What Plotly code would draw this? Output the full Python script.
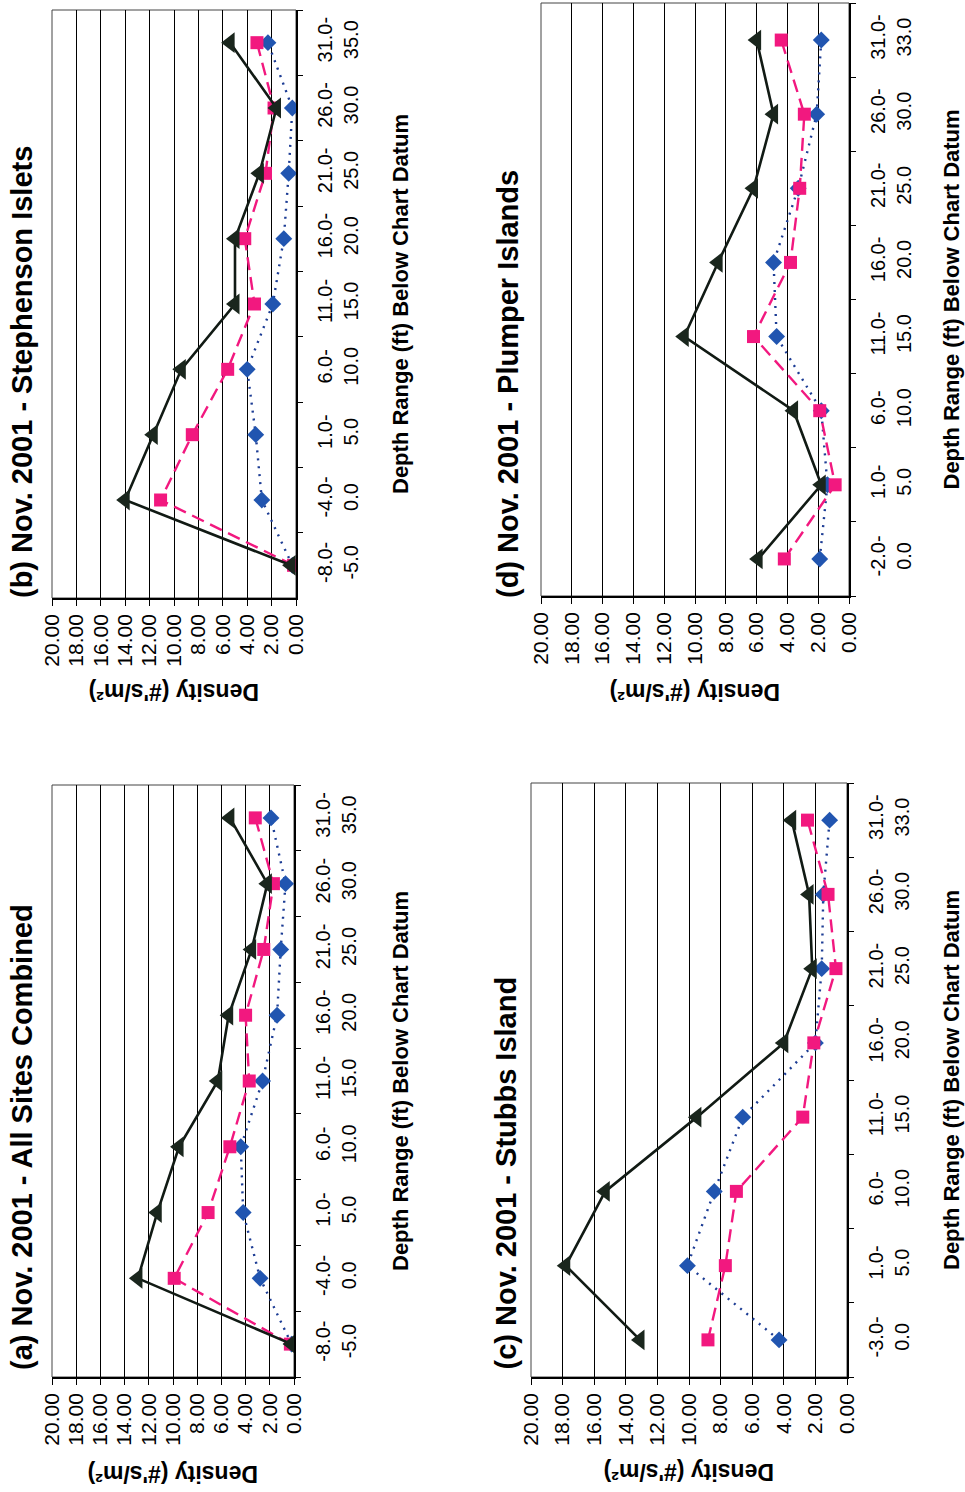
import plotly.graph_objects as go

# ---------------- data ----------------
cats_ab = ["-8.0-<br>-5.0", "-4.0-<br>0.0", "1.0-<br>5.0", "6.0-<br>10.0", "11.0-<br>15.0",
           "16.0-<br>20.0", "21.0-<br>25.0", "26.0-<br>30.0", "31.0-<br>35.0"]
cats_c = ["-3.0-<br>0.0", "1.0-<br>5.0", "6.0-<br>10.0", "11.0-<br>15.0",
          "16.0-<br>20.0", "21.0-<br>25.0", "26.0-<br>30.0", "31.0-<br>33.0"]
cats_d = ["-2.0-<br>0.0", "1.0-<br>5.0", "6.0-<br>10.0", "11.0-<br>15.0",
          "16.0-<br>20.0", "21.0-<br>25.0", "26.0-<br>30.0", "31.0-<br>33.0"]

# (a) All Sites Combined
a_tri = [0.2, 12.9, 11.3, 9.5, 6.3, 5.4, 3.5, 2.2, 5.3]
a_sq = [0.3, 9.9, 7.1, 5.3, 3.7, 4.0, 2.5, 1.7, 3.2]
a_dia = [0.2, 2.8, 4.2, 4.4, 2.6, 1.4, 1.1, 0.7, 1.9]
# (b) Stephenson Islets
b_tri = [0.4, 14.0, 11.7, 9.4, 5.0, 5.0, 3.0, 1.6, 5.4]
b_sq = [0.2, 11.1, 8.5, 5.6, 3.4, 4.2, 2.5, 1.8, 3.2]
b_dia = [0.3, 2.8, 3.3, 4.0, 1.9, 1.0, 0.6, 0.3, 2.3]
# (c) Stubbs Island
c_tri = [13.1, 17.8, 15.3, 9.5, 4.0, 2.2, 2.4, 3.5]
c_sq = [8.8, 7.7, 7.0, 2.8, 2.1, 0.7, 1.2, 2.5]
c_dia = [4.3, 10.1, 8.4, 6.6, 2.0, 1.6, 1.5, 1.1]
# (d) Plumper Islands
d_tri = [5.9, 1.8, 3.6, 10.7, 8.5, 6.2, 4.9, 6.0]
d_sq = [4.2, 0.9, 1.9, 6.2, 3.8, 3.2, 2.9, 4.4]
d_dia = [1.9, 1.4, 1.8, 4.7, 4.9, 3.3, 2.1, 1.8]

titles = ["(a) Nov. 2001 - All Sites Combined", "(b) Nov. 2001 - Stephenson Islets",
          "(c) Nov. 2001 - Stubbs Island", "(d) Nov. 2001 - Plumper Islands"]
density_title = "Density (#'s/m²)"
depth_title = "Depth Range (ft) Below Chart Datum"
density_ticks = [0, 2, 4, 6, 8, 10, 12, 14, 16, 18, 20]

# ---------------- layout geometry (pixels) ----------------
W, H = 965, 1492
FONT = "Liberation Sans, Arial, Helvetica, sans-serif"


def px(v):
    return v / W


def py(v):
    return 1 - v / H


panels = [
    dict(cats=cats_ab, tri=a_tri, sq=a_sq, dia=a_dia, box=(52, 294, 785, 1377),
         tx=22, tb=1372, dx=400, dy=1474),
    dict(cats=cats_ab, tri=b_tri, sq=b_sq, dia=b_dia, box=(52, 296, 10, 598),
         tx=22, tb=600, dx=400, dy=692),
    dict(cats=cats_c, tri=c_tri, sq=c_sq, dia=c_dia, box=(531, 847, 783, 1377),
         tx=505, tb=1372, dx=951, dy=1472),
    dict(cats=cats_d, tri=d_tri, sq=d_sq, dia=d_dia, box=(541, 849, 3, 596),
         tx=508, tb=600, dx=951, dy=692),
]

fig = go.Figure()
layout = {}
annotations = []
shapes = []

for i, p in enumerate(panels):
    n = "" if i == 0 else str(i + 1)
    xref, yref = "x" + n, "y" + n
    l, r, t, b = p["box"]

    fig.add_trace(go.Scatter(
        x=p["dia"], y=p["cats"], xaxis=xref, yaxis=yref, mode="lines+markers",
        line=dict(color="#1c3c94", width=2.4, dash="2px,6px"),
        marker=dict(symbol="diamond", size=13, color="#2155b0"), showlegend=False,
        name="Diamonds"))
    fig.add_trace(go.Scatter(
        x=p["sq"], y=p["cats"], xaxis=xref, yaxis=yref, mode="lines+markers",
        line=dict(color="#f2187f", width=2.4, dash="13px,7px"),
        marker=dict(symbol="square", size=13, color="#f2187f"), showlegend=False,
        name="Squares"))
    fig.add_trace(go.Scatter(
        x=p["tri"], y=p["cats"], xaxis=xref, yaxis=yref, mode="lines+markers",
        line=dict(color="#111a14", width=2.6),
        marker=dict(symbol="triangle-left", size=18, color="#1a261d"), showlegend=False,
        name="Triangles"))

    layout["xaxis" + n] = dict(
        domain=[px(l), px(r)], anchor=yref, range=[20, 0], tickmode="array",
        tickvals=density_ticks, tickformat=".2f", tickangle=-90, ticks="outside",
        ticklen=6, tickcolor="black", showgrid=True, gridcolor="black", gridwidth=1,
        showline=True, linecolor="black", linewidth=1.5, zeroline=False, automargin=False,
        tickfont=dict(size=21, color="black", family=FONT), fixedrange=True)
    layout["yaxis" + n] = dict(
        domain=[py(b), py(t)], anchor=xref, side="right", type="category",
        range=[-0.5, len(p["cats"]) - 0.5], ticks="outside", tickson="boundaries",
        ticklen=5, tickcolor="black", tickangle=-90, showgrid=False, showline=True,
        linecolor="black", linewidth=1.5, ticklabelstandoff=10, automargin=False,
        tickfont=dict(size=20, color="black", family=FONT), fixedrange=True)

    shapes.append(dict(type="rect", xref="paper", yref="paper", x0=px(l), x1=px(r),
                       y0=py(b), y1=py(t), line=dict(color="#444", width=1), layer="below"))

    annotations.append(dict(text="<b>%s</b>" % titles[i], xref="paper", yref="paper",
                            x=px(p["tx"]), y=py(p["tb"]), xanchor="center", yanchor="bottom",
                            textangle=-90, showarrow=False,
                            font=dict(size=29, color="black", family=FONT)))
    annotations.append(dict(text="<b>%s</b>" % depth_title, xref="paper", yref="paper",
                            x=px(p["dx"]), y=py((t + b) / 2), xanchor="center", yanchor="middle",
                            textangle=-90, showarrow=False,
                            font=dict(size=22, color="black", family=FONT)))
    annotations.append(dict(text="<b>%s</b>" % density_title, xref="paper", yref="paper",
                            x=px((l + r) / 2), y=py(p["dy"]), xanchor="center", yanchor="middle",
                            textangle=180, showarrow=False,
                            font=dict(size=23, color="black", family=FONT)))

fig.update_layout(
    width=W, height=H, margin=dict(l=0, r=0, t=0, b=0, autoexpand=False),
    paper_bgcolor="white", plot_bgcolor="white",
    font=dict(family=FONT, color="black"),
    annotations=annotations, shapes=shapes, **layout)

fig.write_html("out.html")
